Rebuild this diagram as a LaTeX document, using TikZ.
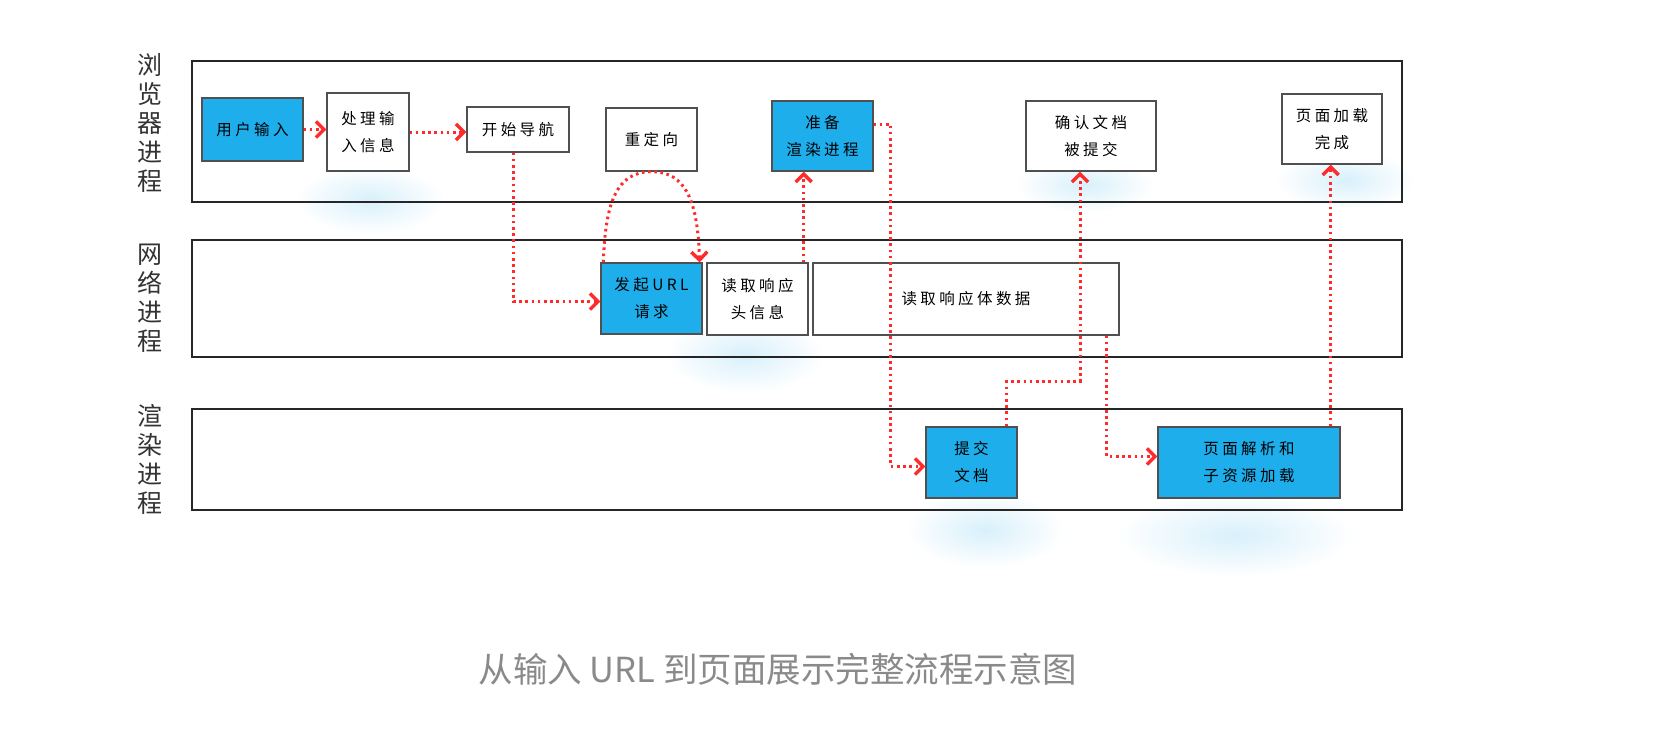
\documentclass[tikz,border=0pt]{standalone}
\usepackage{fontspec}
\usetikzlibrary{arrows.meta}
\definecolor{stageblue}{HTML}{1EAEEB}
\definecolor{boxgray}{HTML}{505050}
\definecolor{flowred}{HTML}{FF2B2B}
\definecolor{glowblue}{HTML}{D8F0FB}
\definecolor{captiongray}{HTML}{8A8A8A}
\newfontfamily\cjk{Noto Sans CJK SC}
\newfontfamily\cjkwide[LetterSpace=22]{Noto Sans CJK SC}
\newcommand{\boxfont}{\cjkwide\fontsize{15.5}{27}\selectfont}
\newcommand{\lanefont}{\cjk\fontsize{25}{29}\selectfont}
\newcommand{\captfont}{\cjk\fontsize{34.5}{40}\selectfont}

\begin{document}
\begin{tikzpicture}[x=1pt, y=-1pt,
  lane/.style={draw=black!85, line width=2.4pt, minimum width=1210pt, inner sep=0pt},
  lanename/.style={font=\lanefont, text=black!80, align=center},
  stage/.style={draw=boxgray, line width=1.3pt, fill=white, align=center, font=\boxfont, text=black, inner sep=0pt},
  busy/.style={stage, fill=stageblue},
  flow/.style={draw=flowred, line width=3pt, dash pattern=on 2.6pt off 3.6pt, -{Straight Barb[length=8pt, width=16pt, line width=3.4pt]}},
  glow/.style={shade, inner color=glowblue, outer color=white}]
  \useasboundingbox (0,0) rectangle (1674,736);
  \shade[glow] (370,200) ellipse (75pt and 34pt);
  \shade[glow] (745,355) ellipse (80pt and 38pt);
  \shade[glow] (1085,185) ellipse (70pt and 28pt);
  \shade[glow] (1345,180) ellipse (70pt and 30pt);
  \shade[glow] (985,530) ellipse (80pt and 38pt);
  \shade[glow] (1235,535) ellipse (120pt and 42pt);

  \node[lane, minimum height=141pt] (browser) at (797,131.5) {};
  \node[lane, minimum height=117pt] (network) at (797,298.5) {};
  \node[lane, minimum height=101pt] (render) at (797,459.5) {};
  \node[lanename] at (150,123) {浏\\览\\器\\进\\程};
  \node[lanename] at (150,298) {网\\络\\进\\程};
  \node[lanename] at (150,459) {渲\\染\\进\\程};

  \node[busy, minimum width=101pt, minimum height=63pt] (input) at (252.5,129.5) {用户输入};
  \node[stage, minimum width=82pt, minimum height=78pt] (proc) at (368,132) {处理输\\入信息};
  \node[stage, minimum width=102pt, minimum height=45pt] (nav) at (518,129.5) {开始导航};
  \node[stage, minimum width=91pt, minimum height=63pt] (redir) at (651.5,139.5) {重定向};
  \node[busy, minimum width=101pt, minimum height=70pt] (prep) at (822.5,136) {准备\\渲染进程};
  \node[stage, minimum width=130pt, minimum height=70pt] (confirm) at (1091,136) {确认文档\\被提交};
  \node[stage, minimum width=100pt, minimum height=70pt] (done) at (1332,129) {页面加载\\完成};
  \node[busy, minimum width=101pt, minimum height=71pt] (fetch) at (651.5,298.5) {发起URL\\请求};
  \node[stage, minimum width=101pt, minimum height=72pt] (head) at (757.5,299) {读取响应\\头信息};
  \node[stage, minimum width=306pt, minimum height=72pt] (body) at (966,299) {读取响应体数据};
  \node[busy, minimum width=91pt, minimum height=71pt] (commit) at (971.5,462.5) {提交\\文档};
  \node[busy, minimum width=182pt, minimum height=71pt] (parse) at (1249,462.5) {页面解析和\\子资源加载};

  \draw[flow] (input.east) -- (input.east -| proc.west);
  \draw[flow] (proc.east) -- (proc.east -| nav.west);
  \draw[flow] ([xshift=-5pt]nav.south) |- ([yshift=-3pt]fetch.west);
  \draw[flow] ([xshift=3pt]fetch.north west) .. controls +(2,-60) and +(-35,0) .. (redir.south)
    .. controls +(35,0) and +(-2,-60) .. ([xshift=-3pt]fetch.north east);
  \draw[flow] ([xshift=-5pt]head.north east) -- ([xshift=-5pt]head.north east |- prep.south);
  \draw[flow] ([yshift=12pt]prep.east) -- ++(17,0) |- ([yshift=-4pt]commit.west);
  \draw[flow] ([xshift=-11pt]commit.north east) -- ++(0,-45) -| ([xshift=-11pt]confirm.south);
  \draw[flow] ([xshift=-13pt]body.south east) |- ([yshift=6pt]parse.west);
  \draw[flow] ([xshift=-10pt]parse.north east) -- ([xshift=-10pt]parse.north east |- done.south);

  \node[font=\captfont, text=captiongray] (caption) at (778,669) {从输入 URL 到页面展示完整流程示意图};
\end{tikzpicture}
\end{document}
